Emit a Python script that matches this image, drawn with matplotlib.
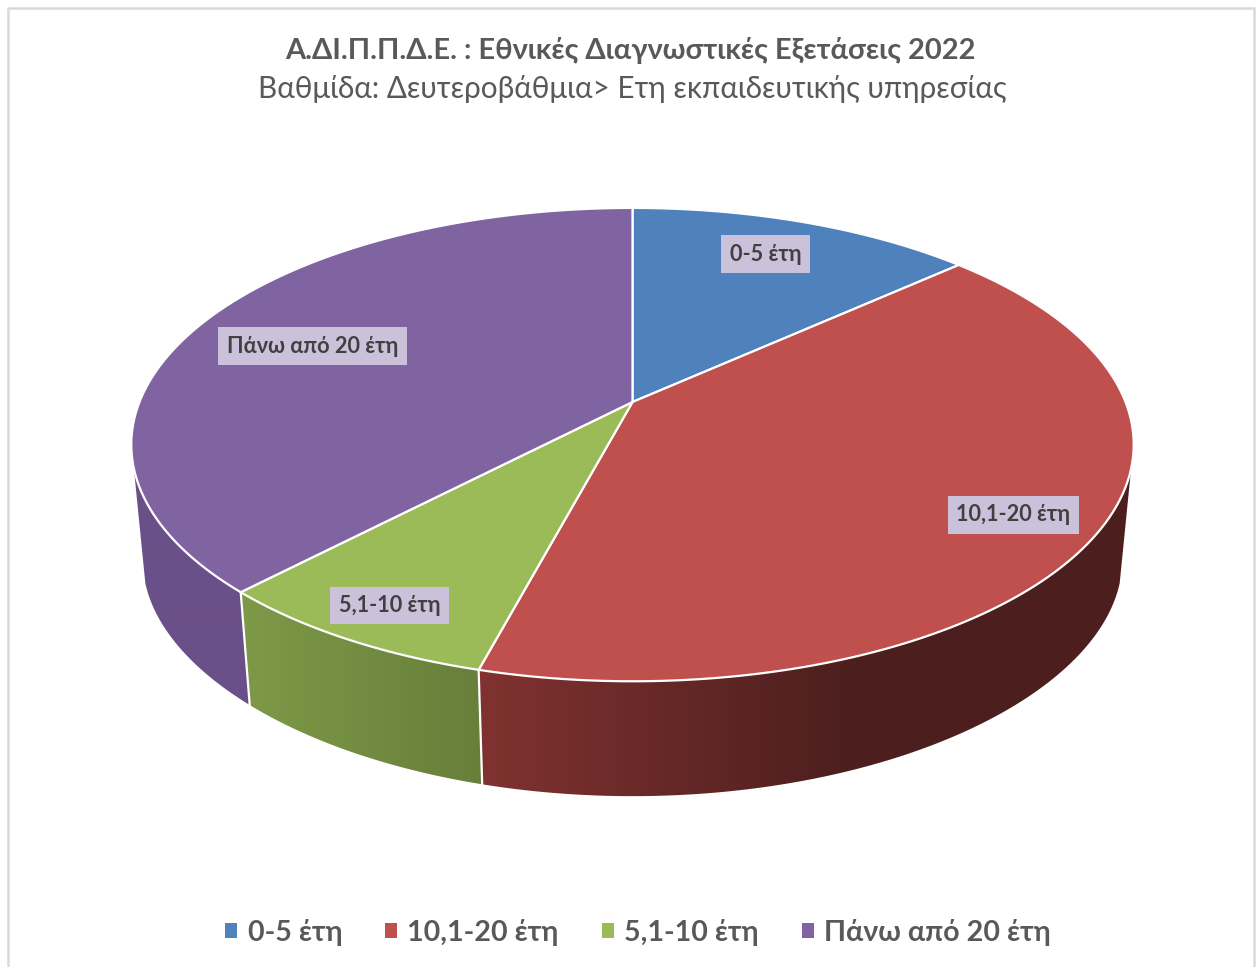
import numpy as np
import matplotlib
matplotlib.use("Agg")
import matplotlib.pyplot as plt
from matplotlib.patches import Patch, Polygon

# Chart data
categories = ['0-5 έτη', '10,1-20 έτη', '5,1-10 έτη', 'Πάνω από 20 έτη']
shares = [13.3, 40.85, 8.0, 37.85]
title = 'Α.ΔΙ.Π.Π.Δ.Ε. : Εθνικές Διαγνωστικές Εξετάσεις 2022'
subtitle = 'Βαθμίδα: Δευτεροβάθμια> Ετη εκπαιδευτικής υπηρεσίας'

# Styles
top_colors = ['#4F81BD', '#C0504D', '#9BBB59', '#8064A2']
wall_left = [(50, 85, 125), (128, 50, 48), (126, 153, 72), (106, 80, 136)]
wall_right = [(50, 85, 125), (76, 31, 30), (103, 127, 58), (106, 80, 136)]
wall_grad = [(632, 958), (480, 850), (241, 482), (131, 250)]
label_radius = [0.79, 0.84, 0.875, 0.73]
label_nudge = [(-7, -1.5), (-3, 4), (2, 1), (-1.5, 3.5)]

plt.rcParams['font.family'] = ['Lato', 'Open Sans', 'DejaVu Sans']

# Perspective of the 3D disc, in image pixels
CX, TOP_CY, A, B, K = 632.5, 402, 493, 229, 0.18
BOT_CY, BOT_B, BOT_K, BOT_S = 520, 215.4, 0.22, 0.977
FRONT_LO, FRONT_HI = 106, 254  # part of the rim where the wall shows


def project(theta, r=1.0):
    # theta: degrees clockwise from twelve o'clock
    t = np.radians(theta)
    X, Y = r * np.sin(t), r * np.cos(t)
    w = 1 + K * Y
    return CX + A * X / w, TOP_CY - B * Y / w


def project_bottom(theta):
    t = np.radians(theta)
    X, Y = np.sin(t), np.cos(t)
    return CX + BOT_S * A * X / (1 + K * Y), BOT_CY - BOT_B * Y / (1 + BOT_K * Y)


fig = plt.figure(figsize=(12.59, 9.67), dpi=100)
ax = fig.add_axes([0, 0, 1, 1])

# Frame of the chart (open at the bottom)
ax.plot([8, 8, 1254, 1254], [967, 8, 8, 967], color='#D9D9D9', lw=1.8, zorder=0)

edges = np.concatenate([[0], np.cumsum(shares)]) * 360 / sum(shares)

# Side walls: horizontal gradient image clipped to each wall outline
px = np.arange(0, 1259)
for i in range(len(shares)):
    lo, hi = max(edges[i], FRONT_LO), min(edges[i + 1], FRONT_HI)
    if lo >= hi:
        continue
    th = np.linspace(lo, hi, 300)
    tx, ty = project(th)
    bx, by = project_bottom(th)
    x0, x1 = wall_grad[i]
    f = np.clip((px - x0) / (x1 - x0), 0, 1)[None, :, None]
    grad = (np.array(wall_left[i]) + (np.array(wall_right[i]) - np.array(wall_left[i])) * f) / 255
    im = ax.imshow(grad, extent=(0, 1259, 967, 0), aspect='auto', zorder=2, interpolation='bilinear')
    im.set_clip_path(Polygon(np.column_stack([np.r_[tx, bx[::-1]], np.r_[ty, by[::-1]]]),
                             transform=ax.transData))

# White seams between front walls
for e in edges[:-1]:
    if 90 < e < 270:
        tx, ty = project(e)
        bx, by = project_bottom(e)
        ax.plot([tx, bx], [ty, by], color='white', lw=1.6, zorder=3)

# Top face
cx, cy = project(0, r=0)
for i in range(len(shares)):
    th = np.linspace(edges[i], edges[i + 1], 200)
    x, y = project(th)
    ax.add_patch(Polygon(np.column_stack([np.r_[cx, x], np.r_[cy, y]]),
                         facecolor=top_colors[i], edgecolor='white', lw=1.6,
                         joinstyle='round', zorder=4))

# Data labels
for i, name in enumerate(categories):
    mid = (edges[i] + edges[i + 1]) / 2
    lx, ly = project(mid, r=label_radius[i])
    ax.text(lx + label_nudge[i][0], ly + label_nudge[i][1], name, ha='center', va='center',
            fontsize=15.6, fontweight='bold', color='#404040', zorder=6,
            bbox=dict(boxstyle='square,pad=0.39', facecolor='#CCC1DA', edgecolor='none'))

# Titles
ax.text(630.5, 50, title, ha='center', va='center', fontsize=20.9, fontweight='bold', color='#595959')
ax.text(632, 89, subtitle, ha='center', va='center', fontsize=21.3, color='#595959')

ax.set_xlim(0, 1259)
ax.set_ylim(967, 0)
ax.axis('off')

# Legend
handles = [Patch(facecolor=c, edgecolor='none') for c in top_colors]
fig.legend(handles, categories, loc='center', bbox_to_anchor=(638 / 1259, 1 - 932 / 967), ncol=4,
           frameon=False, handlelength=0.42, handleheight=0.42, handletextpad=0.36, columnspacing=1.5,
           prop=dict(size=20.6, weight='bold'), labelcolor='#595959')

fig.savefig('out.png', dpi=100)
